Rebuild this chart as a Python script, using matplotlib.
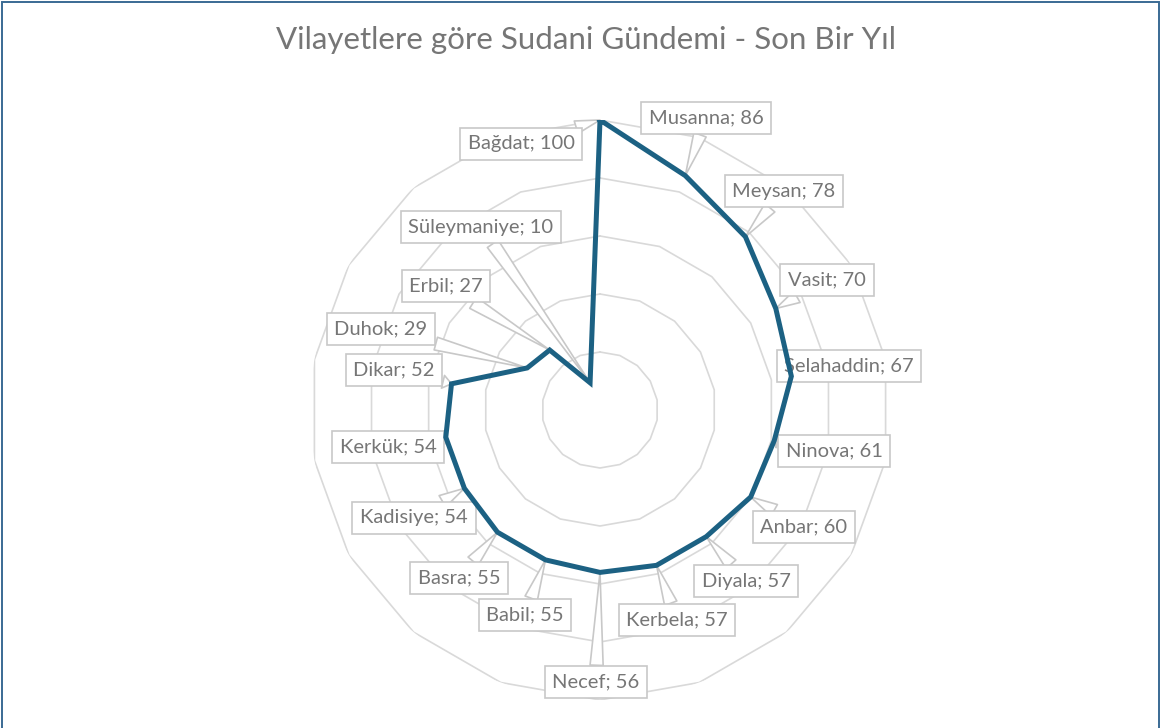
import numpy as np
import matplotlib
matplotlib.use("Agg")
import matplotlib.pyplot as plt
from matplotlib.patches import Rectangle

categories = ["Bağdat", "Musanna", "Meysan", "Vasit", "Selahaddin", "Ninova", "Anbar",
              "Diyala", "Kerbela", "Necef", "Babil", "Basra", "Kadisiye", "Kerkük",
              "Dikar", "Duhok", "Erbil", "Süleymaniye"]
values = [100, 86, 78, 70, 67, 61, 60, 57, 57, 56, 55, 55, 54, 54, 52, 29, 27, 10]
ring_levels = [20, 40, 60, 80, 100]
title = "Vilayetlere göre Sudani Gündemi - Son Bir Yıl"

# label box centres in image pixels (x, y from top)
label_pos = [(521, 144), (706, 118), (784, 191), (827, 280), (849, 366), (834, 451),
             (804, 527), (746, 581), (677, 620), (596, 682), (525, 615), (459, 578),
             (414, 518), (388, 447), (394, 370), (381, 329), (446, 286), (481, 227)]

W, H = 1161, 728
plt.rcParams['font.family'] = ['Lato', 'DejaVu Sans']
fig = plt.figure(figsize=(W / 100, H / 100), dpi=100)
fig.patch.set_facecolor("white")
fig.patches.append(Rectangle((1.5 / W, -0.01), 1 - 3.5 / W, 1.01 - 1.5 / H, transform=fig.transFigure,
                             fill=False, ec="#3a6a94", lw=1.4))

cx, cy, R = 600, 410, 290
ax = fig.add_axes([(cx - R) / W, (H - cy - R) / H, 2 * R / W, 2 * R / H], projection="polar")
ax.set_theta_zero_location("N")
ax.set_theta_direction(-1)
ax.set_ylim(0, 100)
ax.grid(False)
ax.set_xticks([])
ax.set_yticks([])
ax.spines["polar"].set_visible(False)
ax.patch.set_alpha(0)

n = len(categories)
theta = np.arange(n) * 2 * np.pi / n
tc = np.append(theta, theta[0])
for lv in ring_levels:
    ax.plot(tc, [lv] * (n + 1), color="#d9d9d9", lw=1.2, zorder=1)

vc = np.append(values, values[0])
ax.plot(tc, vc, color="#1c6183", lw=3.6, zorder=5, solid_joinstyle="miter")

for cat, v, t, (lx, ly) in zip(categories, values, theta, label_pos):
    ax.annotate(f"{cat}; {v}", xy=(t, v), xytext=(lx, H - ly), textcoords="figure pixels",
                ha="center", va="center", fontsize=14.5, color="#767676", zorder=3,
                bbox=dict(boxstyle="square,pad=0.38", fc="white", ec="#c8c8c8", lw=1.2),
                arrowprops=dict(arrowstyle="wedge,tail_width=0.65,shrink_factor=0.5",
                                fc="white", ec="#c8c8c8", lw=1.2, shrinkA=0, shrinkB=0),
                annotation_clip=False)

fig.text(586 / W, 1 - 40 / H, title, ha="center", va="center", fontsize=22.5, color="#767676")
fig.savefig("out.png", dpi=100)
